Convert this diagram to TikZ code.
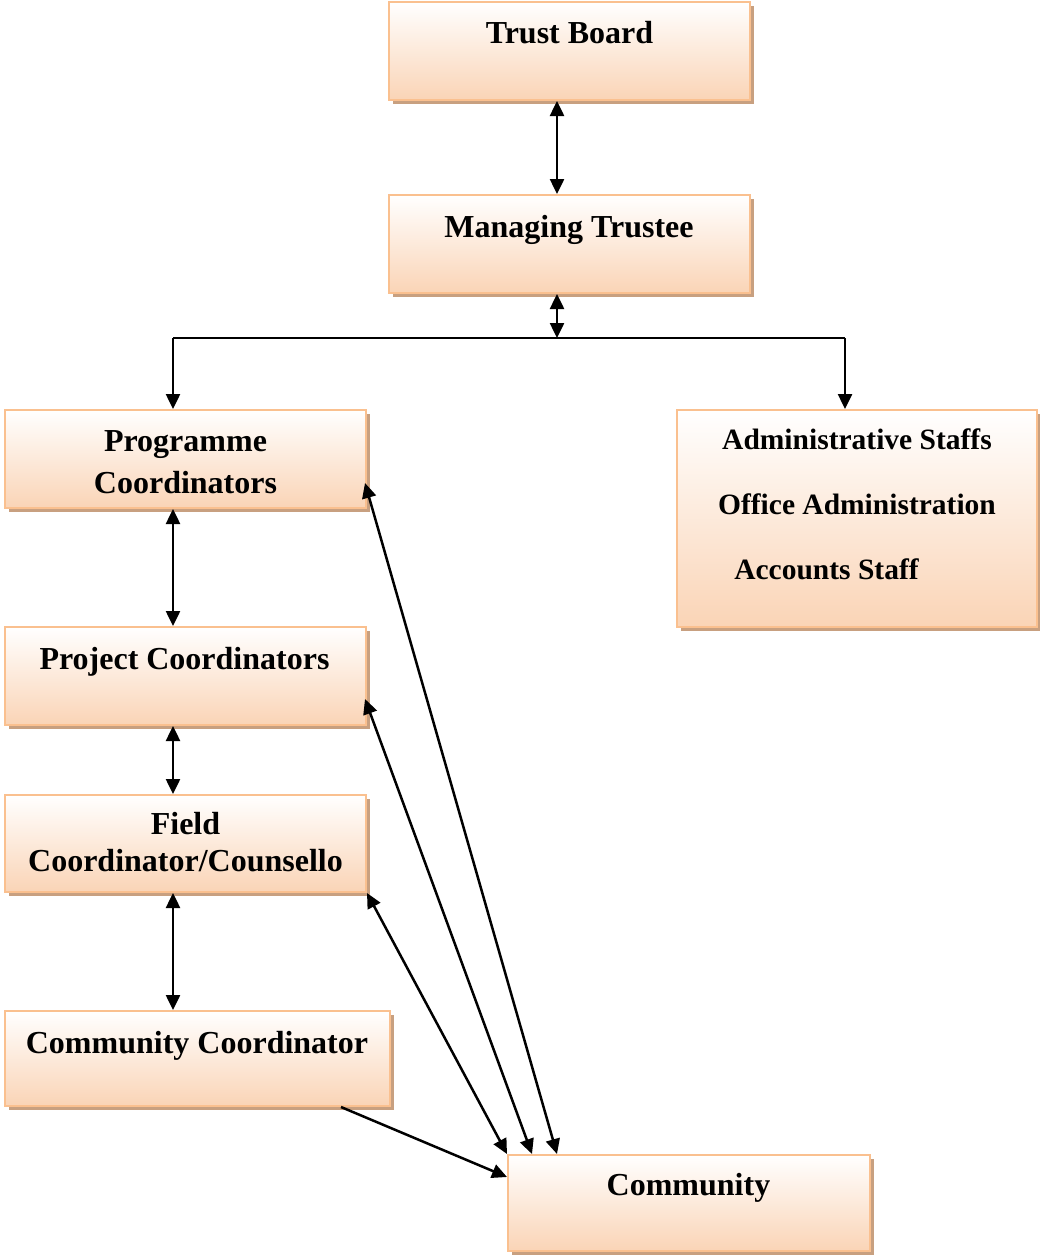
\documentclass[tikz,border=0pt]{standalone}
\usepackage{fontspec}
\setmainfont{Liberation Serif}
\usepackage{tikz}
\usetikzlibrary{
  arrows.meta,
  positioning,
  calc,
  shadows
}
\definecolor{boxline}{RGB}{250,192,143}
\definecolor{boxfill}{RGB}{250,212,182}
\definecolor{boxshade}{RGB}{200,160,128}

\begin{document}
\begin{tikzpicture}[
  x=1pt, y=-1pt,
  box/.style={draw=boxline, line width=2pt, top color=white, bottom color=boxfill,
    minimum width=361pt, minimum height=98pt, inner sep=0pt,
    drop shadow={shadow xshift=4pt, shadow yshift=-4pt, fill=boxshade, opacity=1}},
  txt/.style={font=\fontsize{32}{41.5}\selectfont\bfseries, align=center, inner sep=0pt},
  arrow/.style={-{Triangle[length=15pt,width=14pt]}, line width=2.5pt},
  both/.style={{Triangle[length=15pt,width=14pt]}-{Triangle[length=15pt,width=14pt]}, line width=2.5pt}
]
\useasboundingbox (0,0) rectangle (1039,1255);

\node[box] (board) at (569.5,51) {};
\node[box] (trustee) at (569.5,244) {};
\node[box] (prog) at (185.5,459) {};
\node[box, minimum width=360pt, minimum height=217pt] (admin) at (857,518.5) {};
\node[box] (proj) at (185.5,676) {};
\node[box, minimum height=97pt] (field) at (185.5,843.5) {};
\node[box, minimum width=385pt, minimum height=95pt] (ccoord) at (197.5,1058.5) {};
\node[box, minimum width=362pt, minimum height=96pt] (comm) at (689,1203) {};

\node[txt, anchor=base] (boardtxt) at (569.5,44) {Trust Board};
\node[txt, anchor=base] (trusteetxt) at (569,237) {Managing Trustee};
\node[txt] (progtxt) at (185.5,462) {Programme\\Coordinators};
\node[txt, font=\fontsize{29.5}{65}\selectfont\bfseries] (admintxt) at (857,504)
  {Administrative Staffs\\Office Administration\\\hspace*{-61pt}Accounts Staff};
\node[txt, anchor=base] (projtxt) at (184.5,669) {Project Coordinators};
\node[txt] (fieldtxt) at (185.5,842) {Field\\[-4.5pt]Coordinator/Counsello};
\node[txt, anchor=base] (ccoordtxt) at (197,1053) {Community Coordinator};
\node[txt, anchor=base] (commtxt) at (688.5,1195) {Community};

\coordinate (split) at (557,338);
\coordinate (lcol) at (173,338);
\coordinate (rcol) at (845,338);

\draw[both] (board.south -| split) -- (trustee.north -| split);
\draw[both] (trustee.south -| split) -- (split);
\draw[line width=2pt] (lcol) -- (rcol);
\draw[arrow] (lcol) -- (prog.north -| lcol);
\draw[arrow] (rcol) -- (admin.north -| rcol);

\draw[both] (prog.south -| lcol) -- (proj.north -| lcol);
\draw[both] (proj.south -| lcol) -- (field.north -| lcol);
\draw[both] (field.south -| lcol) -- (ccoord.north -| lcol);

\draw[both] ($(prog.east)+(-2,24)$) -- ($(comm.north west)+(50,0)$);
\draw[both] ($(proj.east)+(-2,23)$) -- ($(comm.north west)+(25,0)$);
\draw[both] (field.south east) -- (comm.north west);
\draw[arrow] ($(ccoord.south east)+(-50,0)$) -- ($(comm.north west)+(0,23)$);
\end{tikzpicture}
\end{document}
